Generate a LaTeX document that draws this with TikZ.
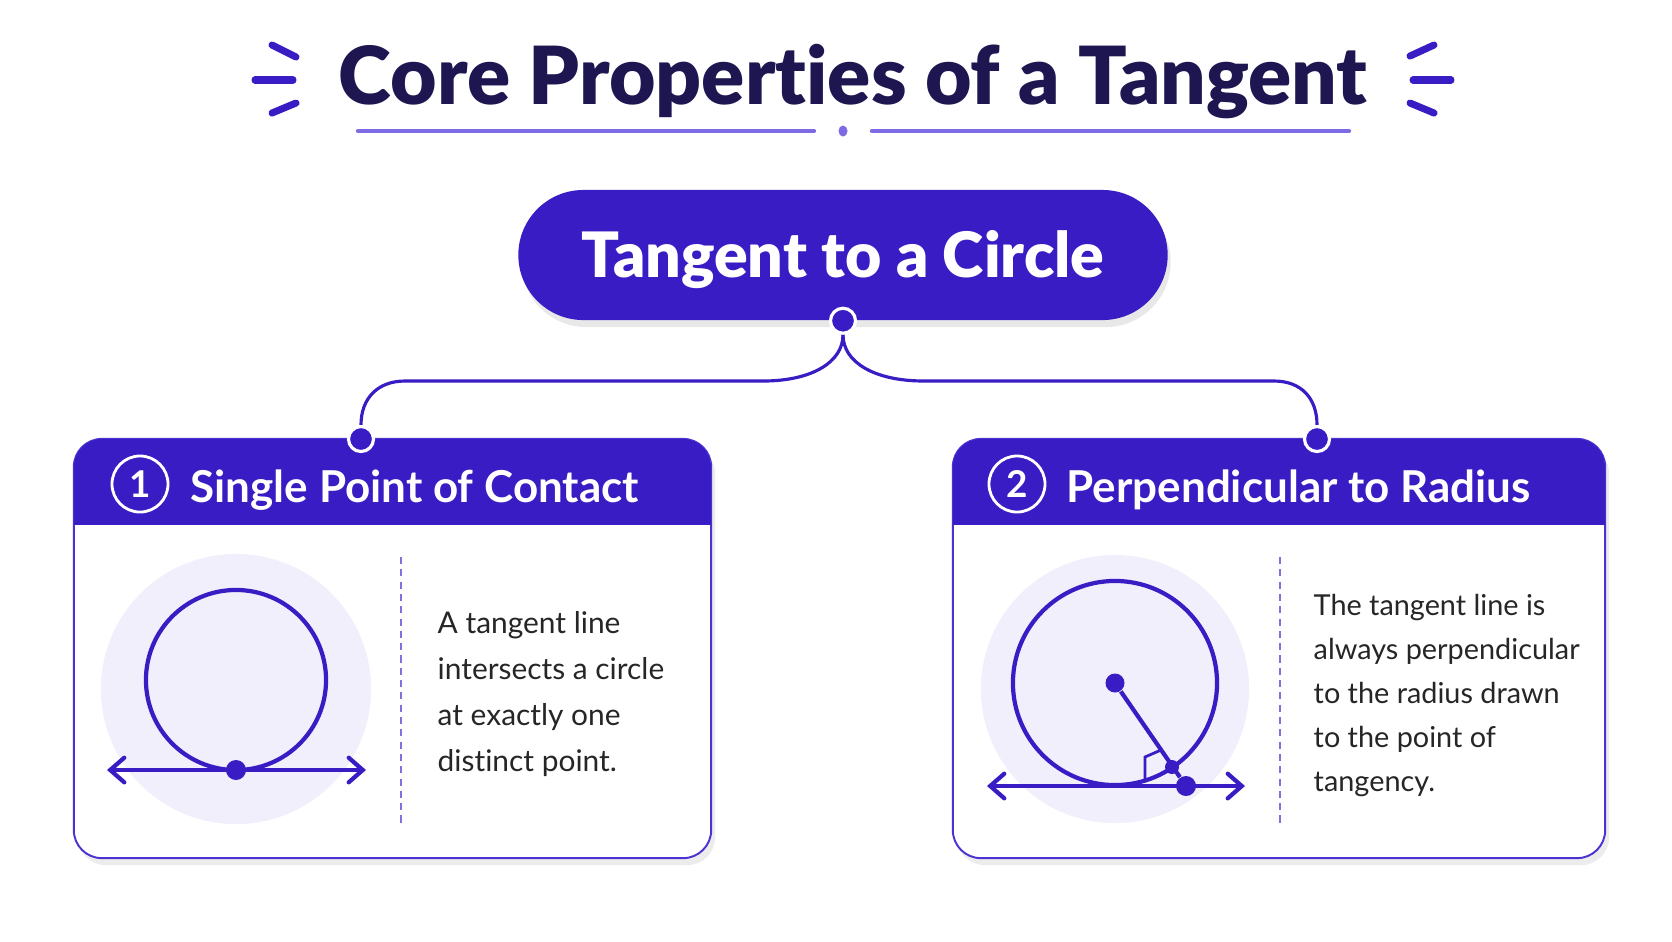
\documentclass[tikz,border=0pt]{standalone}
\usepackage{fontspec}
\setmainfont{Lato}[Ligatures=NoCommon]
\newfontfamily\heavyfont{Lato Black}[Ligatures=NoCommon]
\usetikzlibrary{arrows.meta,positioning,calc,shadows}
\definecolor{indigo}{HTML}{3A1CC4}
\definecolor{navy}{HTML}{1E1650}
\definecolor{lilac}{HTML}{7C6BE4}
\definecolor{mist}{HTML}{F1EFFB}
\definecolor{edge}{HTML}{4B33D1}

\begin{document}
\begin{tikzpicture}[x=0.01cm, y=-0.01cm,
    flare/.style={indigo, line width=2pt, line cap=round},
    rule/.style={lilac, line width=1.2pt, line cap=round},
    pill/.style={fill=indigo, rounded corners=0.65cm, minimum width=6.49cm, minimum height=1.30cm, text=white,
        font=\heavyfont\fontsize{17.8}{20}\selectfont, text height=12.7pt, text depth=0pt,
        drop shadow={opacity=0.18, shadow xshift=0.03cm, shadow yshift=-0.07cm}},
    card/.style={draw=edge, line width=0.55pt, fill=white, rounded corners=0.28cm, minimum height=4.19cm,
        drop shadow={opacity=0.15, shadow xshift=0.04cm, shadow yshift=-0.07cm}},
    dot/.style={circle, fill=indigo, draw=white, line width=0.9pt, inner sep=0pt, minimum size=0.25cm},
    link/.style={indigo, line width=0.9pt},
    num/.style={circle, draw=white, line width=0.8pt, minimum size=0.56cm, inner sep=0pt, text=white,
        font=\bfseries\fontsize{10.5}{12}\selectfont},
    hdtext/.style={anchor=base west, inner sep=0pt, text=white, font=\bfseries\fontsize{12.5}{14}\selectfont},
    body/.style={anchor=north west, inner sep=0pt, align=left, text=black!85, font=\fontsize{8.5}{13.1}\selectfont},
    divider/.style={edge!70, line width=0.35pt, dash pattern=on 2pt off 1.5pt},
    figline/.style={indigo, line width=1.2pt},
    tline/.style={indigo, line width=1.2pt, {Straight Barb[length=4pt, width=7pt, line cap=round]}-{Straight Barb[length=4pt, width=7pt, line cap=round]}},
    pt/.style={circle, fill=indigo, inner sep=0pt}
]
\useasboundingbox[fill=white] (0,0) rectangle (1672,941);

% title
\node[anchor=base, text=navy, font=\heavyfont\fontsize{22.8}{26}\selectfont, inner sep=0pt] (title) at (853,104) {Core Properties of a Tangent};
\draw[flare] (272,45) -- (296,57);
\draw[flare] (255,80) -- (293,80);
\draw[flare] (272,113) -- (296,103);
\draw[flare] (1434,45) -- (1410,56);
\draw[flare] (1413,80) -- (1451,80);
\draw[flare] (1434,113) -- (1410,103);
\draw[rule] (358,131) -- (814,131);
\draw[rule] (872,131) -- (1349,131);
\fill[lilac] (843,131) ellipse [x radius=0.045cm, y radius=0.055cm];

% top pill
\node[pill] (top) at (843,255) {Tangent to a Circle};
\node[dot] (pdot) at (top.south) {};

% cards
\node[card, minimum width=6.37cm] (cardL) at (392.5,648.5) {};
\node[card, minimum width=6.52cm] (cardR) at (1279,648.5) {};
\begin{scope}
  \clip[rounded corners=0.28cm] (74,439) rectangle (711,858);
  \fill[indigo] (74,439) rectangle (711,525);
\end{scope}
\begin{scope}
  \clip[rounded corners=0.28cm] (953,439) rectangle (1605,858);
  \fill[indigo] (953,439) rectangle (1605,525);
\end{scope}
\node[dot] (ldot) at (361,439) {};
\node[dot] (rdot) at (1317,439) {};

\draw[link] (pdot.south) .. controls (843,362) and (812,381) .. (763,381) -- (405,381)
    .. controls (378,381) and (361,398) .. (ldot.north);
\draw[link] (pdot.south) .. controls (843,362) and (874,381) .. (924,381) -- (1274,381)
    .. controls (1301,381) and (1317,398) .. (rdot.north);

% headers
\node[num] (nL) at (140,484) {1};
\node[hdtext] (hL) at (190,502) {Single Point of Contact};
\node[num] (nR) at (1017,484) {2};
\node[hdtext] (hR) at (1066,502) {Perpendicular to Radius};

% left body
\fill[mist] (236,689) circle[radius=1.35cm];
\draw[figline] (236,680) circle[radius=0.90cm];
\coordinate (lA) at (107,770);
\coordinate (lB) at (366,770);
\draw[tline] (lA) -- (lB);
\node[pt, minimum size=0.2cm] (lT) at (236,770) {};
\draw[divider] (401,557) -- (401,824);
\node[body] (tL) at (437,611) {A tangent line\\intersects a circle\\at exactly one\\distinct point.};

% right body
\fill[mist] (1115,689) circle[radius=1.34cm];
\draw[figline] (1115,683) circle[radius=1.02cm];
\coordinate (rA) at (987,786);
\coordinate (rB) at (1245,786);
\draw[tline] (rA) -- (rB);
\node[pt, minimum size=0.19cm] (rC) at (1115,683) {};
\node[pt, minimum size=0.2cm] (rT) at (1186,786) {};
\node[pt, minimum size=0.14cm] (rM) at (1172,767) {};
\draw[figline] (rC) -- (rT);
\draw[indigo, line width=0.8pt] (1145,780) -- (1145,757) -- (1161,750);
\draw[divider] (1280,557) -- (1280,824);
\node[body, font=\fontsize{8.2}{12.5}\selectfont] (tR) at (1313,594) {The tangent line is\\always perpendicular\\to the radius drawn\\to the point of\\tangency.};
\end{tikzpicture}
\end{document}
